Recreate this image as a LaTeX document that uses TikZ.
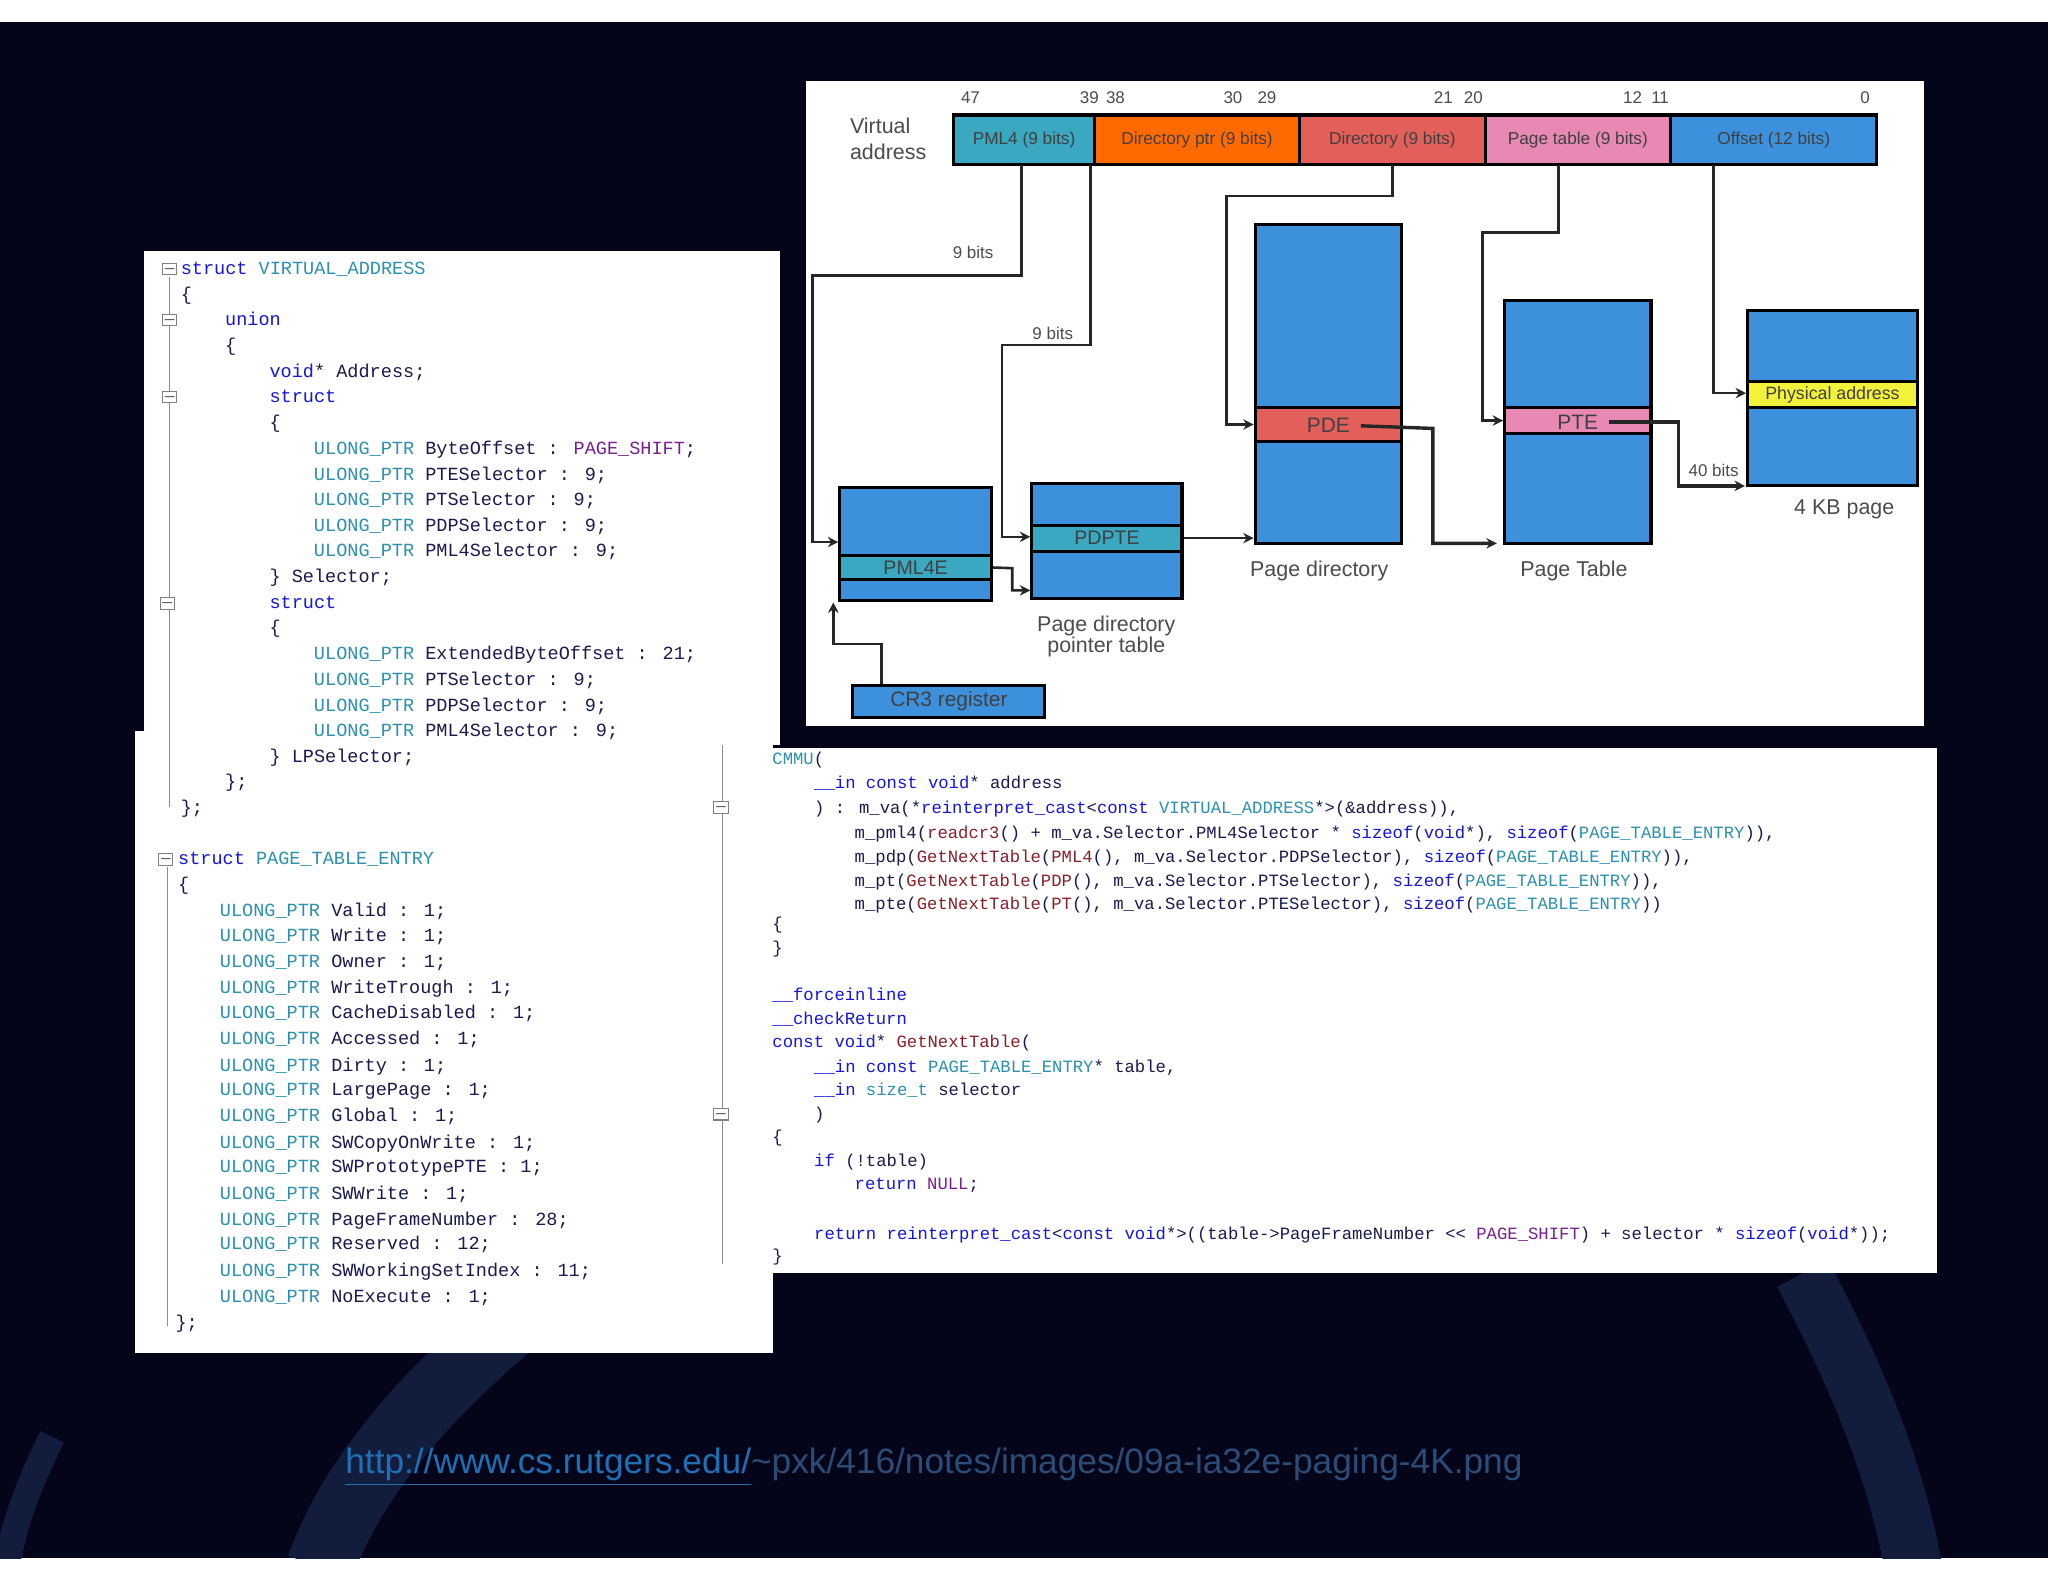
\documentclass[tikz,border=0pt]{standalone}
\usepackage{fontspec}
\setmainfont{Liberation Sans}
\newfontfamily\cmono{Liberation Mono}
\usetikzlibrary{arrows.meta,fit}
\definecolor{bgd}{HTML}{05051A}
\definecolor{arcc}{HTML}{121C3C}
\definecolor{kwc}{HTML}{1515E0}
\definecolor{tyc}{HTML}{2B91AF}
\definecolor{mcc}{HTML}{7A1F8F}
\definecolor{fnc}{HTML}{8A1F2A}
\definecolor{idc}{HTML}{1A1A50}
\definecolor{cteal}{HTML}{3AA8C1}
\definecolor{corange}{HTML}{FF6A00}
\definecolor{csalmon}{HTML}{E3605A}
\definecolor{cpink}{HTML}{E889B5}
\definecolor{cblue}{HTML}{3D90DC}
\definecolor{cyellow}{HTML}{F2F23A}
\definecolor{lnk}{HTML}{1F6FB5}
\definecolor{lnk2}{HTML}{2C4C78}
\newcommand\ckw[1]{\textcolor{kwc}{#1}}
\newcommand\cty[1]{\textcolor{tyc}{#1}}
\newcommand\cmc[1]{\textcolor{mcc}{#1}}
\newcommand\cfn[1]{\textcolor{fnc}{#1}}
\newcounter{ln}
\newcommand\cl[3]{\stepcounter{ln}\node[lc] (l\theln) at (#1,#2+4) {#3};}
\newcommand\rcl[3]{\stepcounter{ln}\node[rc] (l\theln) at (#1,#2+4) {#3};}
\begin{document}
\begin{tikzpicture}[x=0.5pt,y=-0.5pt,
  lc/.style={anchor=base west,inner sep=0pt,font=\cmono\fontsize{7.1}{8}\selectfont,text=idc},
  rc/.style={anchor=base west,inner sep=0pt,font=\cmono\fontsize{6.6}{8}\selectfont,text=idc},
  seg/.style={draw=black,line width=1.2pt,inner sep=0pt},
  segt/.style={font=\fontsize{6.6}{8}\selectfont,text=black!75,inner sep=0pt},
  tbl/.style={draw=black,line width=1.2pt,inner sep=0pt,fill=cblue},
  tblt/.style={font=\fontsize{7.5}{9}\selectfont,text=black!75,inner sep=0pt},
  lab/.style={font=\fontsize{8.2}{10}\selectfont,text=black!70,align=center},
  bitn/.style={font=\fontsize{6.5}{8}\selectfont,text=black!70},
  con/.style={line width=1pt,draw=black!85},
  arr/.style={con,-{Stealth[length=4pt,width=4pt]}},
  fold/.style={draw=black!50,line width=0.4pt,fill=white,minimum size=4.5pt,inner sep=0pt}]
\useasboundingbox (0,0) rectangle (1568,1211);
\fill[white] (0,0) rectangle (1568,1211);
\fill[bgd] (0,17) rectangle (1568,1193);
% faint background arcs
\begin{scope}
\clip (0,17) rectangle (1568,1193);
\draw[line width=26pt,color=arcc] (420,990) .. controls (330,1060) and (270,1130) .. (245,1200);
\draw[line width=22pt,color=arcc] (1380,975) .. controls (1420,1050) and (1450,1120) .. (1465,1200);
\draw[line width=10pt,color=arcc] (40,1100) .. controls (20,1140) and (10,1170) .. (5,1200);
\end{scope}

%================ diagram panel
\node[fill=white,inner sep=0pt,fit={(617,62)(1473,556)}] (panel) {};
\node[lab,align=left] (va) at (680,106) {Virtual\\address};
\node[seg,fill=cteal,fit={(730,88)(838,126)}] (s1) {};
\node[seg,fill=corange,fit={(838,88)(995,126)}] (s2) {};
\node[seg,fill=csalmon,fit={(995,88)(1137,126)}] (s3) {};
\node[seg,fill=cpink,fit={(1137,88)(1279,126)}] (s4) {};
\node[seg,fill=cblue,fit={(1279,88)(1437,126)}] (s5) {};
\node[segt] (s1t) at (s1.center) {PML4 (9 bits)};
\node[segt] (s2t) at (s2.center) {Directory ptr (9 bits)};
\node[segt] (s3t) at (s3.center) {Directory (9 bits)};
\node[segt] (s4t) at (s4.center) {Page table (9 bits)};
\node[segt] (s5t) at (s5.center) {Offset (12 bits)};
\node[bitn] (b47) at (743,75) {47};
\node[bitn] (b39) at (834,75) {39};
\node[bitn] (b38) at (854,75) {38};
\node[bitn] (b30) at (944,75) {30};
\node[bitn] (b29) at (970,75) {29};
\node[bitn] (b21) at (1105,75) {21};
\node[bitn] (b20) at (1128,75) {20};
\node[bitn] (b12) at (1250,75) {12};
\node[bitn] (b11) at (1271,75) {11};
\node[bitn] (b0) at (1428,75) {0};
% tables
\node[tbl,fit={(643,373)(759,460)}] (t1) {};
\node[tbl,fill=cteal,fit={(643,425)(759,444)}] (e1) {};
\node[tbl,fit={(790,370)(905,458)}] (t2) {};
\node[tbl,fill=cteal,fit={(790,402)(905,422)}] (e2) {};
\node[tbl,fit={(961,172)(1073,416)}] (t3) {};
\node[tbl,fill=csalmon,fit={(961,312)(1073,338)}] (e3) {};
\node[tbl,fit={(1152,230)(1264,416)}] (t4) {};
\node[tbl,fill=cpink,fit={(1152,312)(1264,332)}] (e4) {};
\node[tbl,fit={(1338,238)(1468,372)}] (t5) {};
\node[tbl,fill=cyellow,fit={(1338,292)(1468,312)}] (e5) {};
\node[tbl,fit={(653,525)(800,549)}] (cr3) {};
\node[tblt] (e1t) at (e1.center) {PML4E};
\node[tblt] (e2t) at (e2.center) {PDPTE};
\node[tblt,font=\fontsize{8}{9}\selectfont] (e3t) at (1017,326) {PDE};
\node[tblt,font=\fontsize{8}{9}\selectfont] (e4t) at (1208,323) {PTE};
\node[tblt,font=\fontsize{6.8}{8}\selectfont] (e5t) at (e5.center) {Physical address};
\node[tblt,font=\fontsize{8}{9}\selectfont] (cr3t) at (cr3.center) {CR3 register};
\node[lab] (l1) at (847,487) {Page directory\\[-2pt]pointer table};
\node[lab] (l2) at (1010,437) {Page directory};
\node[lab] (l3) at (1205,437) {Page Table};
\node[lab] (l4) at (1412,390) {4 KB page};
\node[bitn] (n1) at (745,193) {9 bits};
\node[bitn] (n2) at (806,255) {9 bits};
\node[bitn] (n3) at (1312,360) {40 bits};
% connectors
\coordinate (c1) at (782,126);
\draw[arr] (c1) -- (782,211) -- (622,211) -- (622,415) -- (t1.west |- 0,415);
\coordinate (c2) at (835,126);
\draw[arr] (c2) -- (835,264) -- (767,264) -- (767,411) -- (t2.west |- 0,411);
\coordinate (c3) at (1066,126);
\draw[arr] (c3) -- (1066,150) -- (939,150) -- (939,325) -- (e3.west |- 0,325);
\coordinate (c4) at (1193,126);
\draw[arr] (c4) -- (1193,178) -- (1135,178) -- (1135,322) -- (e4.west |- 0,322);
\coordinate (c5) at (1312,126);
\draw[arr] (c5) -- (1312,301) -- (e5.west |- 0,301);
\draw[arr] (e1.east) -- (775,435) -- (775,452) -- (t2.west |- 0,452);
\draw[arr] (e2.east) -- (t3.west |- e2.east);
\draw[arr,line width=1.3pt] ([xshift=4pt]e3t.east) -- (1097,328) -- (1097,416) -- (1146,416);
\draw[arr,line width=1.3pt] ([xshift=4pt]e4t.east) -- (1285,323) -- (1285,372) -- (1336,372);
\draw[arr] (cr3.north -| 675,0) -- (675,493) -- (638,493) -- (t1.south -| 638,0);

%================ left code panel
\fill[white] (110,192) rectangle (597,570);
\node[fill=white,inner sep=0pt,fit={(103,560)(592,1036)}] (lp) {};
\draw[black!45,line width=0.4pt] (130,212) -- (130,618) (128,664) -- (128,1015);
\foreach \yy/\xx in {206/130,245/130,304/130,462/128,658/127}{\node[fold] at (\xx,\yy) {\tiny$-$};}
\cl{138}{206}{\ckw{struct} \cty{VIRTUAL\_ADDRESS}}
\cl{138}{226}{\{}
\cl{172}{245}{\ckw{union}}
\cl{172}{265}{\{}
\cl{206}{285}{\ckw{void}* Address;}
\cl{206}{304}{\ckw{struct}}
\cl{206}{324}{\{}
\cl{240}{344}{\cty{ULONG\_PTR} ByteOffset : \cmc{PAGE\_SHIFT};}
\cl{240}{364}{\cty{ULONG\_PTR} PTESelector : 9;}
\cl{240}{383}{\cty{ULONG\_PTR} PTSelector : 9;}
\cl{240}{403}{\cty{ULONG\_PTR} PDPSelector : 9;}
\cl{240}{422}{\cty{ULONG\_PTR} PML4Selector : 9;}
\cl{206}{442}{\} Selector;}
\cl{206}{462}{\ckw{struct}}
\cl{206}{481}{\{}
\cl{240}{501}{\cty{ULONG\_PTR} ExtendedByteOffset : 21;}
\cl{240}{521}{\cty{ULONG\_PTR} PTSelector : 9;}
\cl{240}{541}{\cty{ULONG\_PTR} PDPSelector : 9;}
\cl{240}{560}{\cty{ULONG\_PTR} PML4Selector : 9;}
\cl{206}{580}{\} LPSelector;}
\cl{172}{599}{\};}
\cl{138}{619}{\};}
\cl{136}{658}{\ckw{struct} \cty{PAGE\_TABLE\_ENTRY}}
\cl{136}{678}{\{}
\cl{168}{698}{\cty{ULONG\_PTR} Valid : 1;}
\cl{168}{717}{\cty{ULONG\_PTR} Write : 1;}
\cl{168}{737}{\cty{ULONG\_PTR} Owner : 1;}
\cl{168}{757}{\cty{ULONG\_PTR} WriteTrough : 1;}
\cl{168}{776}{\cty{ULONG\_PTR} CacheDisabled : 1;}
\cl{168}{796}{\cty{ULONG\_PTR} Accessed : 1;}
\cl{168}{816}{\cty{ULONG\_PTR} Dirty : 1;}
\cl{168}{835}{\cty{ULONG\_PTR} LargePage : 1;}
\cl{168}{855}{\cty{ULONG\_PTR} Global : 1;}
\cl{168}{875}{\cty{ULONG\_PTR} SWCopyOnWrite : 1;}
\cl{168}{894}{\cty{ULONG\_PTR} SWPrototypePTE : 1;}
\cl{168}{914}{\cty{ULONG\_PTR} SWWrite : 1;}
\cl{168}{934}{\cty{ULONG\_PTR} PageFrameNumber : 28;}
\cl{168}{953}{\cty{ULONG\_PTR} Reserved : 12;}
\cl{168}{973}{\cty{ULONG\_PTR} SWWorkingSetIndex : 11;}
\cl{168}{993}{\cty{ULONG\_PTR} NoExecute : 1;}
\cl{134}{1013}{\};}

%================ right code panel
\node[fill=white,inner sep=0pt,fit={(545,573)(1483,975)}] (rp) {};
\draw[black!45,line width=0.4pt] (553,570) -- (553,968);
\foreach \yy in {618,853}{\node[fold] at (552,\yy) {\tiny$-$};}
\rcl{591}{581}{\cty{CMMU}(}
\rcl{623}{600}{\ckw{\_\_in} \ckw{const} \ckw{void}* address}
\rcl{623}{619}{) : m\_va(*\ckw{reinterpret\_cast}<\ckw{const} \cty{VIRTUAL\_ADDRESS}*>(\&address)),}
\rcl{654}{638}{m\_pml4(\cfn{readcr3}() + m\_va.Selector.PML4Selector * \ckw{sizeof}(\ckw{void}*), \ckw{sizeof}(\cty{PAGE\_TABLE\_ENTRY})),}
\rcl{654}{656}{m\_pdp(\cfn{GetNextTable}(\cfn{PML4}(), m\_va.Selector.PDPSelector), \ckw{sizeof}(\cty{PAGE\_TABLE\_ENTRY})),}
\rcl{654}{675}{m\_pt(\cfn{GetNextTable}(\cfn{PDP}(), m\_va.Selector.PTSelector), \ckw{sizeof}(\cty{PAGE\_TABLE\_ENTRY})),}
\rcl{654}{692}{m\_pte(\cfn{GetNextTable}(\cfn{PT}(), m\_va.Selector.PTESelector), \ckw{sizeof}(\cty{PAGE\_TABLE\_ENTRY}))}
\rcl{591}{708}{\{}
\rcl{591}{726}{\}}
\rcl{591}{762}{\ckw{\_\_forceinline}}
\rcl{591}{780}{\ckw{\_\_checkReturn}}
\rcl{591}{798}{\ckw{const} \ckw{void}* \cfn{GetNextTable}(}
\rcl{623}{817}{\ckw{\_\_in} \ckw{const} \cty{PAGE\_TABLE\_ENTRY}* table,}
\rcl{623}{835}{\ckw{\_\_in} \cty{size\_t} selector}
\rcl{623}{853}{)}
\rcl{591}{871}{\{}
\rcl{623}{889}{\ckw{if} (!table)}
\rcl{654}{907}{\ckw{return} \cmc{NULL};}
\rcl{623}{945}{\ckw{return} \ckw{reinterpret\_cast}<\ckw{const} \ckw{void}*>((table->PageFrameNumber << \cmc{PAGE\_SHIFT}) + selector * \ckw{sizeof}(\ckw{void}*));}
\rcl{591}{962}{\}}

%================ URL
\node[anchor=base west,inner sep=0pt,font=\fontsize{13.5}{15}\selectfont] (url) at (264,1128)
  {\textcolor{lnk}{\underline{http://www.cs.rutgers.edu/}}\textcolor{lnk2}{\textasciitilde pxk/416/notes/images/09a-ia32e-paging-4K.png}};
\end{tikzpicture}
\end{document}
